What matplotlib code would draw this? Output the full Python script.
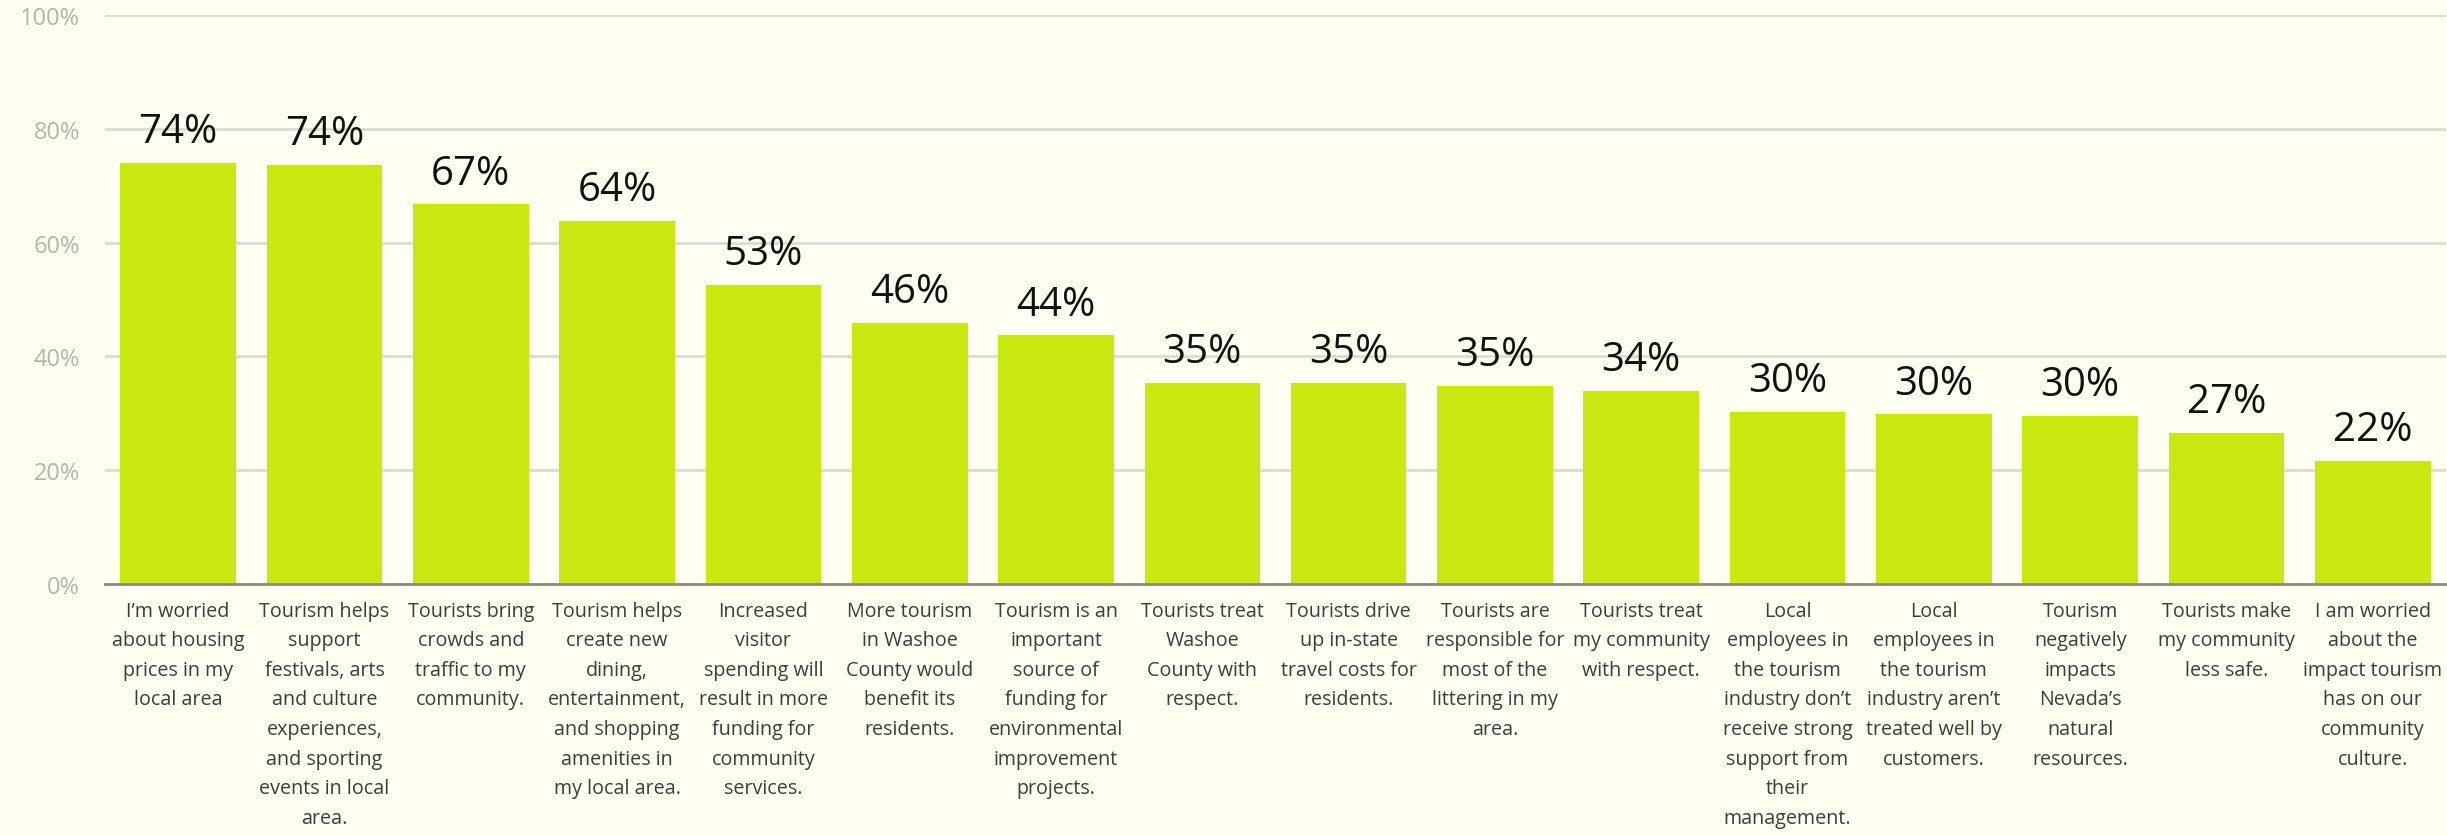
import matplotlib
matplotlib.use("Agg")
import matplotlib.pyplot as plt
from matplotlib.ticker import FuncFormatter

categories = [
    "I\u2019m worried\nabout housing\nprices in my\nlocal area",
    "Tourism helps\nsupport\nfestivals, arts\nand culture\nexperiences,\nand sporting\nevents in local\narea.",
    "Tourists bring\ncrowds and\ntraffic to my\ncommunity.",
    "Tourism helps\ncreate new\ndining,\nentertainment,\nand shopping\namenities in\nmy local area.",
    "Increased\nvisitor\nspending will\nresult in more\nfunding for\ncommunity\nservices.",
    "More tourism\nin Washoe\nCounty would\nbenefit its\nresidents.",
    "Tourism is an\nimportant\nsource of\nfunding for\nenvironmental\nimprovement\nprojects.",
    "Tourists treat\nWashoe\nCounty with\nrespect.",
    "Tourists drive\nup in-state\ntravel costs for\nresidents.",
    "Tourists are\nresponsible for\nmost of the\nlittering in my\narea.",
    "Tourists treat\nmy community\nwith respect.",
    "Local\nemployees in\nthe tourism\nindustry don\u2019t\nreceive strong\nsupport from\ntheir\nmanagement.",
    "Local\nemployees in\nthe tourism\nindustry aren\u2019t\ntreated well by\ncustomers.",
    "Tourism\nnegatively\nimpacts\nNevada\u2019s\nnatural\nresources.",
    "Tourists make\nmy community\nless safe.",
    "I am worried\nabout the\nimpact tourism\nhas on our\ncommunity\nculture.",
]
values = [74.0, 73.6, 66.7, 63.8, 52.6, 45.9, 43.7, 35.3,
          35.3, 34.8, 33.9, 30.2, 29.8, 29.5, 26.6, 21.6]
y_ticks = [0, 20, 40, 60, 80, 100]

BG = "#fdfff0"
BAR = "#c9e80f"
FONT = ["Open Sans", "DejaVu Sans"]

plt.rcParams["font.family"] = FONT

fig = plt.figure(figsize=(24.47, 8.37), dpi=100, facecolor=BG)
ax = fig.add_axes([105 / 2447, 1 - 585 / 837, (2446 - 105) / 2447, (585 - 16) / 837])
ax.set_facecolor(BG)

x = list(range(len(values)))
bars = ax.bar(x, values, width=0.79, color=BAR, zorder=3)

for rect, v in zip(bars, values):
    ax.annotate(f"{v:.0f}%", (rect.get_x() + rect.get_width() / 2, rect.get_height()),
                xytext=(0, 15), textcoords="offset points", ha="center", va="baseline",
                fontsize=29, color="#111111", zorder=4)

ax.set_xlim(-0.5, len(values) - 0.5)
ax.set_ylim(0, 100)
ax.set_yticks(y_ticks)
ax.yaxis.set_major_formatter(FuncFormatter(lambda v, _: f"{v:.0f}%"))
ax.tick_params(axis="y", length=0, pad=18, labelsize=17, labelcolor="#b3b5aa")
ax.grid(axis="y", color="#dcddd2", linewidth=2, zorder=0)

ax.set_xticks(x)
ax.set_xticklabels(categories, fontsize=14.2, color="#3d3d3d", linespacing=1.64, va="top")
ax.tick_params(axis="x", length=0, pad=12)

for side in ("top", "right", "left"):
    ax.spines[side].set_visible(False)
ax.spines["bottom"].set_color("#8a8c84")
ax.spines["bottom"].set_linewidth(2)
ax.spines["bottom"].set_zorder(5)

fig.savefig("out.png", dpi=100, facecolor=BG)
